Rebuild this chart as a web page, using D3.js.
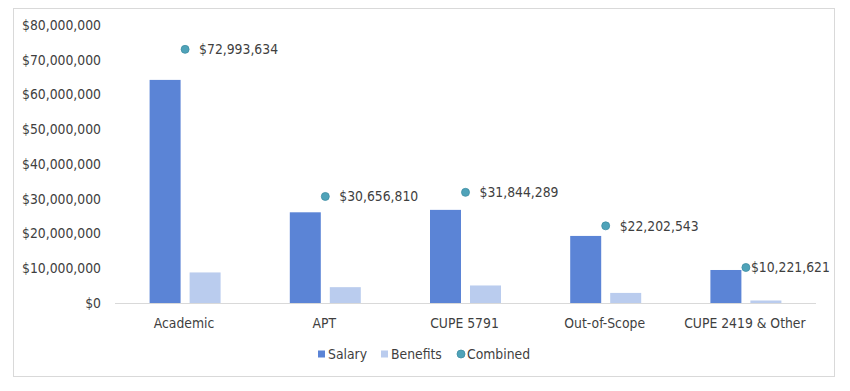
<!DOCTYPE html>
<html><head>
<meta charset="utf-8">
<script src="https://d3js.org/d3.v7.min.js"></script>
<style>
  body { margin: 0; background: #fff; }
  text { font-family: "DejaVu Sans Condensed", "Liberation Sans", Arial, sans-serif; fill: #3f3f3f; }
</style>
</head>
<body>
<div id="chart"></div>
<script>

// data
const categories = ['Academic', 'APT', 'CUPE 5791', 'Out-of-Scope', 'CUPE 2419 & Other'];
const salary   = [64200000, 26100000, 26800000, 19300000, 9500000];
const benefits = [8793634, 4556810, 5044289, 2902543, 721621];
const combined = [72993634, 30656810, 31844289, 22202543, 10221621];
const yTicks   = [0, 10000000, 20000000, 30000000, 40000000, 50000000, 60000000, 70000000, 80000000];

// constants
const canvas = [850, 391];
const plot = {left: 115, right: 816, top: 25, bottom: 303};
const colors = {salary: '#5b84d6', benefits: '#baccee', combined: '#4fa3b9'};
const fs = '13.8px';

const svg = d3.select('#chart').append('svg')
  .attr('width', canvas[0])
  .attr('height', canvas[1]);

// outer frame
svg.append('rect')
  .attr('x', 13.5).attr('y', 8.5)
  .attr('width', 821).attr('height', 368)
  .style('fill', 'none')
  .style('stroke', '#d9d9d9');

const scX = d3.scaleBand().domain(categories).range([plot.left, plot.right]);
const scY = d3.scaleLinear().domain([0, 80000000]).range([plot.bottom, plot.top]);
const barW = 31, gap = 9;

// y axis labels
const fmt = v => '$' + d3.format(',')(v);
svg.append('g').selectAll('text').data(yTicks).join('text')
  .attr('x', 101)
  .attr('y', d => scY(d))
  .attr('dy', '0.35em')
  .attr('text-anchor', 'end')
  .style('font-size', fs)
  .text(fmt);

// bars
const cx = c => scX(c) + scX.bandwidth() / 2;
svg.append('g').selectAll('rect').data(categories).join('rect')
  .attr('x', c => cx(c) - gap / 2 - barW)
  .attr('y', (c, i) => scY(salary[i]))
  .attr('width', barW)
  .attr('height', (c, i) => scY(0) - scY(salary[i]))
  .style('fill', colors.salary);
svg.append('g').selectAll('rect').data(categories).join('rect')
  .attr('x', c => cx(c) + gap / 2)
  .attr('y', (c, i) => scY(benefits[i]))
  .attr('width', barW)
  .attr('height', (c, i) => scY(0) - scY(benefits[i]))
  .style('fill', colors.benefits);

// baseline
svg.append('line')
  .attr('x1', plot.left).attr('x2', plot.right)
  .attr('y1', scY(0) + 0.5).attr('y2', scY(0) + 0.5)
  .style('stroke', '#d9d9d9');

// category labels
svg.append('g').selectAll('text').data(categories).join('text')
  .attr('x', c => cx(c) - 1)
  .attr('y', 323)
  .attr('dy', '0.35em')
  .attr('text-anchor', 'middle')
  .style('font-size', fs)
  .text(c => c);

// combined points + labels
svg.append('g').selectAll('circle').data(categories).join('circle')
  .attr('cx', cx)
  .attr('cy', (c, i) => scY(combined[i]))
  .attr('r', 4)
  .style('fill', colors.combined)
  .style('stroke', '#3f8ea3')
  .style('stroke-width', 0.8);
svg.append('g').selectAll('text').data(categories).join('text')
  .attr('x', (c, i) => cx(c) + (i === categories.length - 1 ? 5 : 14))
  .attr('y', (c, i) => scY(combined[i]))
  .attr('dy', '0.35em')
  .style('font-size', fs)
  .text((c, i) => fmt(combined[i]));

// legend
const legend = svg.append('g').attr('transform', 'translate(0, 354)');
legend.append('rect').attr('x', 318).attr('y', -3.5).attr('width', 7).attr('height', 7).style('fill', colors.salary);
legend.append('text').attr('x', 328).attr('dy', '0.35em').style('font-size', fs).text('Salary');
legend.append('rect').attr('x', 381).attr('y', -3.5).attr('width', 7).attr('height', 7).style('fill', colors.benefits);
legend.append('text').attr('x', 391).attr('dy', '0.35em').style('font-size', fs).text('Benefits');
legend.append('circle').attr('cx', 461).attr('cy', 0).attr('r', 4).style('fill', colors.combined).style('stroke', '#3f8ea3').style('stroke-width', 0.8);
legend.append('text').attr('x', 467).attr('dy', '0.35em').style('font-size', fs).text('Combined');

</script>
</body></html>
